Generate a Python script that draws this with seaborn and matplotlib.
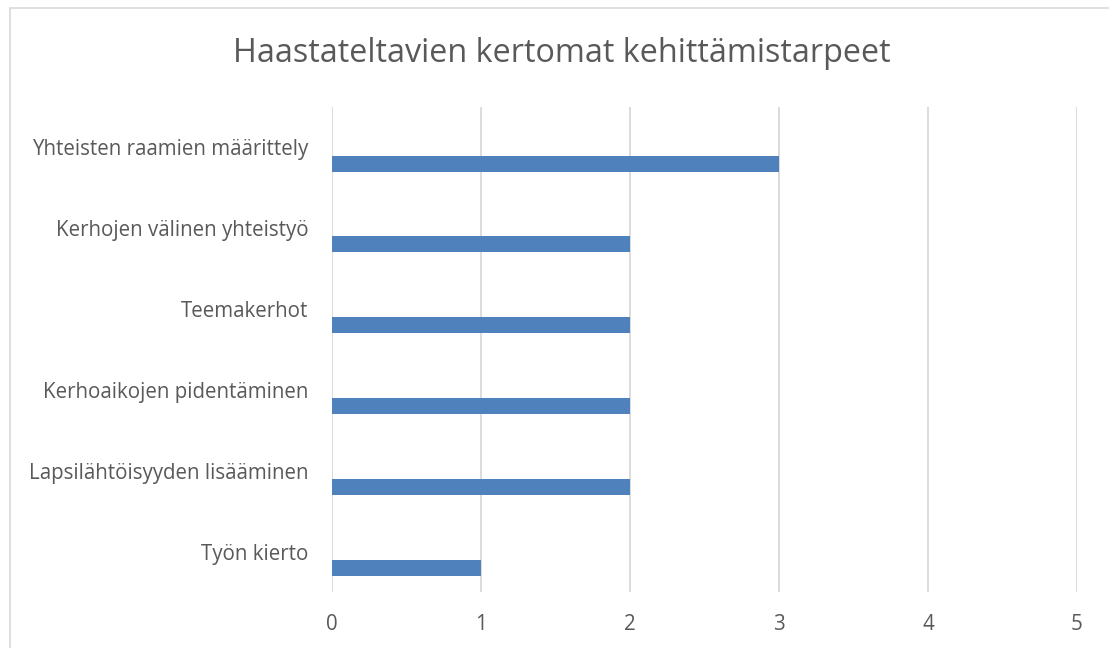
import numpy as np
import pandas as pd
import seaborn as sns
import matplotlib.pyplot as plt
from matplotlib.patches import Rectangle

categories = [
    'Yhteisten raamien määrittely',
    'Kerhojen välinen yhteistyö',
    'Teemakerhot',
    'Kerhoaikojen pidentäminen',
    'Lapsilähtöisyyden lisääminen',
    'Työn kierto',
]
values = [3, 2, 2, 2, 2, 1]
x_ticks = [0, 1, 2, 3, 4, 5]

df = pd.DataFrame({'kategoria': categories, 'maara': values})

sns.set_style("white")
plt.rcParams['font.family'] = ['Open Sans', 'DejaVu Sans']
text_color = '#595959'

fig = plt.figure(figsize=(11.09, 6.48), dpi=100)
ax = fig.add_axes([332 / 1109, 1 - 592 / 648, 745 / 1109, 485 / 648])

# Excel-style bar: thin bar sitting below the category label
sns.barplot(data=df, x='maara', y='kategoria', orient='h', color='#4F81BD',
            width=0.2, saturation=1, linewidth=0, ax=ax, zorder=3)

ax.set_yticks(np.arange(len(categories)) - 0.2)
ax.set_yticklabels(categories, fontsize=14.8, color=text_color)
ax.set_ylim(len(categories) - 0.7, -0.7)

ax.set_xlim(0, 5)
ax.set_xticks(x_ticks)
ax.set_xticklabels([str(t) for t in x_ticks], fontsize=14.8, color=text_color)
ax.grid(axis='x', color='#D9D9D9', linewidth=1.3, zorder=0)
ax.tick_params(axis='x', length=0, pad=16)
ax.tick_params(axis='y', length=0, pad=17)
for s in ax.spines.values():
    s.set_visible(False)
ax.set_xlabel('')
ax.set_ylabel('')

fig.text(0.507, 1 - 53 / 648, 'Haastateltavien kertomat kehittämistarpeet',
         ha='center', va='center', fontsize=23.3, color=text_color)

fig.patches.append(Rectangle((10 / 1109, -0.1), 1.2, 1.1 - 8 / 648,
                             transform=fig.transFigure, fill=False,
                             edgecolor='#D9D9D9', linewidth=1.2))

fig.savefig('out.png', dpi=100)
